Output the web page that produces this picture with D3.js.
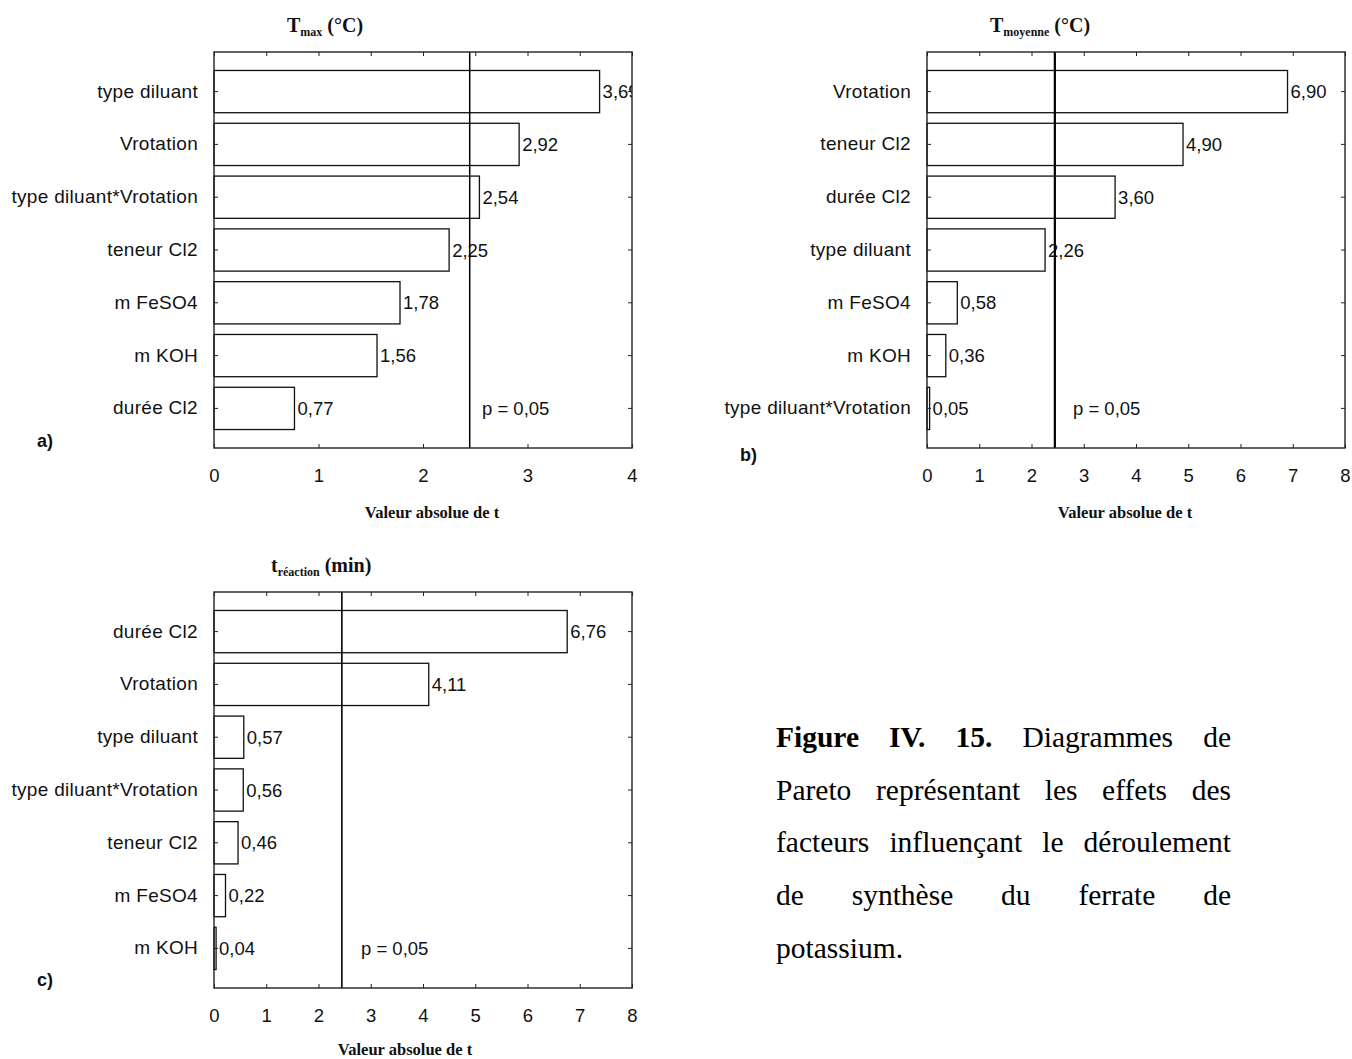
<!DOCTYPE html>
<html>
<head>
<meta charset="utf-8">
<script src="https://cdn.jsdelivr.net/npm/d3@7"></script>
<style>
  html, body { margin: 0; padding: 0; background: #fff; }
  svg { display: block; }
  .cat, .val, .tick-lab, .plab, .panel-id { font-family: "Liberation Sans", Arial, sans-serif; }
  .serif { font-family: "Liberation Serif", "Times New Roman", serif; }
</style>
</head>
<body>
<svg id="chart" width="1352" height="1059"></svg>
<script>
// ---------- DATA ----------
const critT = 2.447; // p = 0,05

const catsA = ["type diluant", "Vrotation", "type diluant*Vrotation", "teneur Cl2", "m FeSO4", "m KOH", "durée Cl2"];
const valsA = [3.69, 2.92, 2.54, 2.25, 1.78, 1.56, 0.77];
const ticksA = [0, 1, 2, 3, 4];

const catsB = ["Vrotation", "teneur Cl2", "durée Cl2", "type diluant", "m FeSO4", "m KOH", "type diluant*Vrotation"];
const valsB = [6.90, 4.90, 3.60, 2.26, 0.58, 0.36, 0.05];
const ticksB = [0, 1, 2, 3, 4, 5, 6, 7, 8];

const catsC = ["durée Cl2", "Vrotation", "type diluant", "type diluant*Vrotation", "teneur Cl2", "m FeSO4", "m KOH"];
const valsC = [6.76, 4.11, 0.57, 0.56, 0.46, 0.22, 0.04];
const ticksC = [0, 1, 2, 3, 4, 5, 6, 7, 8];

const pLabel = "p = 0,05";
const xTitle = "Valeur absolue de t";

// ---------- DRAW ----------
const svg = d3.select("#chart");
const fmt = v => d3.format(".2f")(v).replace(".", ",");
const SANS = "Liberation Sans, Arial, sans-serif";

function panel(o) {
  const g = svg.append("g");
  const x = d3.scaleLinear().domain([0, o.ticks[o.ticks.length - 1]]).range([o.left, o.right]);
  const y = d3.scaleBand().domain(o.cats).range([o.top, o.bottom]).paddingInner(0.2).paddingOuter(0.35);
  const id = "clip" + o.id;
  svg.append("clipPath").attr("id", id).append("rect")
    .attr("x", o.left).attr("y", o.top).attr("width", o.right - o.left).attr("height", o.bottom - o.top);

  // bars
  g.selectAll("rect.bar").data(o.vals).join("rect").attr("class", "bar")
    .attr("x", x(0)).attr("y", (d, i) => y(o.cats[i]))
    .attr("width", d => x(d) - x(0)).attr("height", y.bandwidth())
    .attr("fill", "#fff").attr("stroke", "#111").attr("stroke-width", 1.3);

  // value labels (clipped to plot)
  g.append("g").attr("clip-path", `url(#${id})`)
    .selectAll("text").data(o.vals).join("text").attr("class", "val")
    .attr("x", d => x(d) + 3).attr("y", (d, i) => y(o.cats[i]) + y.bandwidth() / 2)
    .attr("dy", "0.36em").attr("font-size", 18.5).attr("fill", "#111")
    .text(d => fmt(d));

  // critical line
  g.append("line").attr("x1", x(critT)).attr("x2", x(critT)).attr("y1", o.top).attr("y2", o.bottom)
    .attr("stroke", "#000").attr("stroke-width", o.critW);

  // frame
  g.append("rect").attr("x", o.left).attr("y", o.top).attr("width", o.right - o.left).attr("height", o.bottom - o.top)
    .attr("fill", "none").attr("stroke", "#222").attr("stroke-width", 1.4);

  // bottom axis (ticks inward)
  const bx = d3.axisBottom(x).tickValues(o.ticks).tickSize(-4).tickPadding(21).tickFormat(d3.format("d"));
  const ga = g.append("g").attr("transform", `translate(0,${o.bottom})`).call(bx);
  ga.select(".domain").remove();
  ga.selectAll("line").attr("stroke", "#222");
  ga.selectAll("text").attr("class", "tick-lab").attr("font-size", 18.5).attr("fill", "#111")
    .attr("font-family", SANS);

  // top axis (minor ticks inward)
  const tx = d3.axisTop(x).tickValues(o.topTicks).tickSize(-4).tickFormat("");
  const gt = g.append("g").attr("transform", `translate(0,${o.top})`).call(tx);
  gt.select(".domain").remove();
  gt.selectAll("line").attr("stroke", "#222");

  // left axis (category labels, ticks inward)
  const ly = d3.axisLeft(y).tickSize(-4).tickPadding(16);
  const gl = g.append("g").attr("transform", `translate(${o.left},0)`).call(ly);
  gl.select(".domain").remove();
  gl.selectAll("line").attr("stroke", "#222");
  gl.selectAll("text").attr("class", "cat").attr("font-size", 19).attr("letter-spacing", 0.3)
    .attr("fill", "#111").attr("font-family", SANS);

  // right ticks inward
  const ry = d3.axisRight(y).tickSize(-4).tickFormat("");
  const gr = g.append("g").attr("transform", `translate(${o.right},0)`).call(ry);
  gr.select(".domain").remove();
  gr.selectAll("line").attr("stroke", "#222");

  // p label
  g.append("text").attr("class", "plab").attr("x", o.pX).attr("y", y(o.cats[6]) + y.bandwidth() / 2)
    .attr("dy", "0.36em").attr("font-size", 18.5).attr("fill", "#111").text(pLabel);

  // panel id
  g.append("text").attr("class", "panel-id").attr("x", o.idX).attr("y", o.idY)
    .attr("font-size", 18).attr("font-weight", "bold").attr("fill", "#111").text(o.id + ")");

  // x title
  g.append("text").attr("class", "serif").attr("x", o.xtX).attr("y", o.bottom + o.xtDY)
    .attr("text-anchor", "middle").attr("font-size", 16.5).attr("font-weight", "bold").attr("fill", "#111")
    .text(xTitle);

  // panel title with subscript
  const t = g.append("text").attr("class", "serif").attr("x", o.titleX).attr("y", o.top - 20)
    .attr("font-size", 20).attr("font-weight", "bold").attr("fill", "#111");
  t.append("tspan").text(o.titleMain);
  t.append("tspan").attr("font-size", 12).attr("dy", 4).text(o.titleSub);
  t.append("tspan").attr("dy", -4).text(" " + o.titleUnit);
}

panel({ id: "a", cats: catsA, vals: valsA, ticks: ticksA, topTicks: d3.range(0, 4.01, 0.5),
  left: 214, right: 632, top: 52, bottom: 448, critW: 1.5, pX: 482, idX: 37, idY: 447, xtX: 432, xtDY: 70,
  titleX: 287, titleMain: "T", titleSub: "max", titleUnit: "(°C)" });

panel({ id: "b", cats: catsB, vals: valsB, ticks: ticksB, topTicks: ticksB,
  left: 927, right: 1345, top: 52, bottom: 448, critW: 2.2, pX: 1073, idX: 740, idY: 461, xtX: 1125, xtDY: 70,
  titleX: 990, titleMain: "T", titleSub: "moyenne", titleUnit: "(°C)" });

panel({ id: "c", cats: catsC, vals: valsC, ticks: ticksC, topTicks: ticksC,
  left: 214, right: 632, top: 592, bottom: 988, critW: 1.6, pX: 361, idX: 37, idY: 986, xtX: 405, xtDY: 67,
  titleX: 271, titleMain: "t", titleSub: "réaction", titleUnit: "(min)" });

// ---------- CAPTION (justified) ----------
const capLines = [
  [{ t: "Figure", b: true }, { t: "IV.", b: true }, { t: "15.", b: true }, { t: "Diagrammes" }, { t: "de" }],
  [{ t: "Pareto" }, { t: "représentant" }, { t: "les" }, { t: "effets" }, { t: "des" }],
  [{ t: "facteurs" }, { t: "influençant" }, { t: "le" }, { t: "déroulement" }],
  [{ t: "de" }, { t: "synthèse" }, { t: "du" }, { t: "ferrate" }, { t: "de" }],
  [{ t: "potassium." }]
];
const capL = 776, capR = 1231, capY0 = 747, capDY = 52.7, capFS = 29.5;
capLines.forEach((words, li) => {
  const yy = capY0 + li * capDY;
  const els = words.map(w => svg.append("text").attr("class", "serif").attr("y", yy)
    .attr("font-size", capFS).attr("font-weight", w.b ? "bold" : "normal").attr("fill", "#000").text(w.t));
  const widths = els.map(e => e.node().getComputedTextLength());
  const total = d3.sum(widths);
  const last = li === capLines.length - 1;
  const gap = (last || words.length < 2) ? capFS * 0.25 : (capR - capL - total) / (words.length - 1);
  let cx = capL;
  els.forEach((e, i) => { e.attr("x", cx); cx += widths[i] + gap; });
});
</script>
</body>
</html>
